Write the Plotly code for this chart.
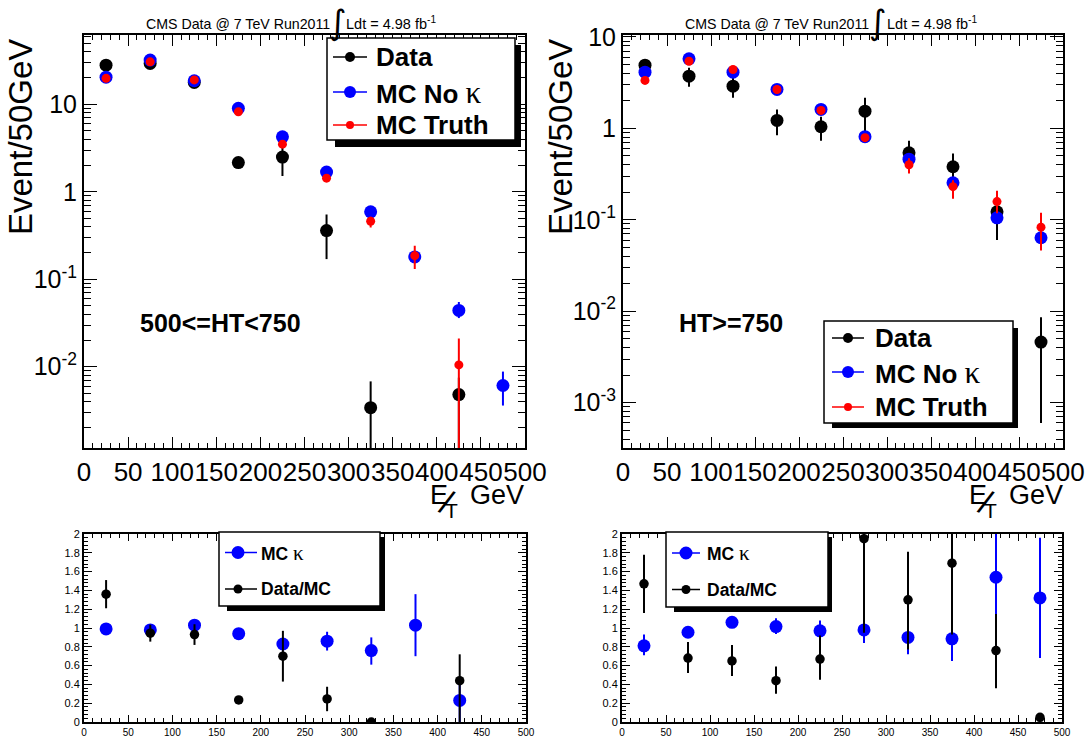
import plotly.graph_objects as go

W, H = 1087, 738

# ---------------- data ----------------
met_bins = [25, 75, 125, 175, 225, 275, 325, 375, 425, 475]

# 500 <= HT < 750
tl_data = [28, 29.3, 17.8, 2.16, 2.49, 0.36, 0.0034, None, 0.0048, None]
tl_data_up = [0, 0, 0, 0, 0.9, 0.19, 0.0034, 0, 0.0027, 0]
tl_data_dn = [0, 0, 0, 0, 0.97, 0.19, 0.00339, 0, 0.00479, 0]
tl_mc = [20.4, 32, 18.6, 9.0, 4.25, 1.68, 0.59, 0.18, 0.044, 0.0061]
tl_mc_up = [0, 0, 0, 0, 0, 0, 0, 0, 0.011, 0.0027]
tl_mc_dn = [0, 0, 0, 0, 0, 0, 0, 0, 0.008, 0.0025]
tl_truth = [19.8, 30.6, 19, 8.2, 3.5, 1.43, 0.46, 0.186, 0.0105, None]
tl_truth_up = [0, 0, 0, 0, 0, 0, 0.06, 0.055, 0.0105, 0]
tl_truth_dn = [0, 0, 0, 0, 0, 0, 0.07, 0.055, 0.01049, 0]

# HT >= 750
tr_data = [4.9, 3.72, 2.89, 1.22, 1.04, 1.54, 0.54, 0.38, 0.122, 0.0046]
tr_data_up = [0.3, 0.87, 0.7, 0.39, 0.3, 0.62, 0.19, 0.15, 0.045, 0.004]
tr_data_dn = [0.3, 0.87, 0.73, 0.38, 0.31, 0.64, 0.15, 0.12, 0.062, 0.004]
tr_mc = [4.11, 5.75, 4.11, 2.66, 1.61, 0.81, 0.46, 0.254, 0.105, 0.0636]
tr_truth = [3.34, 5.42, 4.4, 2.66, 1.57, 0.79, 0.40, 0.23, 0.158, 0.083]
tr_truth_up = [0, 0, 0, 0, 0, 0, 0.07, 0.04, 0.05, 0.036]
tr_truth_dn = [0, 0, 0, 0, 0, 0, 0.08, 0.06, 0.04, 0.037]

# ratios, 500 <= HT < 750
bl_mck = [0.99, 0.98, 1.03, 0.94, 0.83, 0.86, 0.76, 1.03, 0.23, None]
bl_mck_up = [0.02, 0.02, 0.02, 0.02, 0.05, 0.1, 0.14, 0.33, 0.2, 0]
bl_mck_dn = [0.02, 0.02, 0.02, 0.02, 0.05, 0.1, 0.15, 0.33, 0.23, 0]
bl_ratio = [1.36, 0.945, 0.93, 0.235, 0.70, 0.245, 0.0, None, 0.44, None]
bl_ratio_up = [0.15, 0.09, 0.11, 0, 0.27, 0.13, 0, 0, 0.28, 0]
bl_ratio_dn = [0.15, 0.09, 0.11, 0, 0.27, 0.13, 0, 0, 0.44, 0]

# ratios, HT >= 750
br_mck = [0.81, 0.955, 1.06, 1.015, 0.97, 0.98, 0.90, 0.885, 1.54, 1.32]
br_mck_up = [0.12, 0.05, 0.04, 0.09, 0.11, 0.14, 0.19, 0.26, 0.5, 0.64]
br_mck_dn = [0.1, 0.05, 0.04, 0.08, 0.11, 0.14, 0.18, 0.235, 0.39, 0.64]
br_ratio = [1.47, 0.68, 0.65, 0.44, 0.67, 1.95, 1.30, 1.69, 0.76, 0.05]
br_ratio_up = [0.31, 0.17, 0.17, 0.15, 0.25, 0.5, 0.51, 0.5, 0.39, 0]
br_ratio_dn = [0.31, 0.16, 0.16, 0.14, 0.22, 1.0, 0.53, 0.76, 0.40, 0]

log_tick_vals_tl = [0.01, 0.1, 1, 10]
log_tick_text_tl = ["10<sup>-2</sup>", "10<sup>-1</sup>", "1", "10"]
log_tick_vals_tr = [0.001, 0.01, 0.1, 1, 10]
log_tick_text_tr = ["10<sup>-3</sup>", "10<sup>-2</sup>", "10<sup>-1</sup>", "1", "10"]

title_left = "CMS Data @ 7 TeV Run2011"
title_right = "Ldt = 4.98 fb<sup>-1</sup>"

BLACK, BLUE, RED = "#000000", "#0000ff", "#ff0000"
FONT = "Liberation Sans"

# ---------------- helpers ----------------
def X(p):
    return p / W


def Y(p):
    return 1 - p / H


def pts(x, y, up, dn, color, size, xa, ya):
    return go.Scatter(
        x=x, y=y, mode="markers", xaxis=xa, yaxis=ya, showlegend=False,
        marker=dict(color=color, size=size, line=dict(width=0)),
        error_y=dict(type="data", symmetric=False, array=up, arrayminus=dn,
                     color=color, thickness=2, width=0),
        hoverinfo="x+y",
    )


fig = go.Figure()

# top-left
fig.add_trace(pts(met_bins, tl_data, tl_data_up, tl_data_dn, BLACK, 13, "x", "y"))
fig.add_trace(pts(met_bins, tl_mc, tl_mc_up, tl_mc_dn, BLUE, 13, "x", "y"))
fig.add_trace(pts(met_bins, tl_truth, tl_truth_up, tl_truth_dn, RED, 9, "x", "y"))
# top-right
fig.add_trace(pts(met_bins, tr_data, tr_data_up, tr_data_dn, BLACK, 13, "x2", "y2"))
fig.add_trace(pts(met_bins, tr_mc, [0] * 10, [0] * 10, BLUE, 13, "x2", "y2"))
fig.add_trace(pts(met_bins, tr_truth, tr_truth_up, tr_truth_dn, RED, 9, "x2", "y2"))
# bottom-left
fig.add_trace(pts(met_bins, bl_mck, bl_mck_up, bl_mck_dn, BLUE, 13, "x3", "y3"))
fig.add_trace(pts(met_bins, bl_ratio, bl_ratio_up, bl_ratio_dn, BLACK, 9.5, "x3", "y3"))
# bottom-right
fig.add_trace(pts(met_bins, br_mck, br_mck_up, br_mck_dn, BLUE, 13, "x4", "y4"))
fig.add_trace(pts(met_bins, br_ratio, br_ratio_up, br_ratio_dn, BLACK, 9.5, "x4", "y4"))

frame = dict(showline=True, linecolor="black", linewidth=2, mirror="ticks",
             ticks="inside", tickcolor="black", tickwidth=1, showgrid=False,
             zeroline=False, automargin=False, fixedrange=True)

minor_log = [k * 10.0 ** e for e in range(-4, 2) for k in range(2, 10)]

top_x = dict(frame, range=[0, 500], dtick=50, tick0=0, ticklen=11, tickangle=0,
             tickfont=dict(family=FONT, size=26, color="black"),
             minor=dict(ticks="inside", ticklen=5, dtick=10, tickcolor="black",
                        tickwidth=1, showgrid=False))
bot_x = dict(frame, range=[0, 500], dtick=50, tick0=0, ticklen=7, tickangle=0,
             tickfont=dict(family=FONT, size=10, color="black"),
             minor=dict(ticks="inside", ticklen=4, dtick=10, tickcolor="black",
                        tickwidth=1, showgrid=False))
bot_y = dict(frame, range=[0, 2], dtick=0.2, tick0=0, ticklen=8,
             tickfont=dict(family=FONT, size=11, color="black"),
             minor=dict(ticks="inside", ticklen=4, dtick=0.04, tickcolor="black",
                        tickwidth=1, showgrid=False))

yd_top = [Y(448), Y(34.5)]
yd_bot = [Y(722), Y(534)]

fig.update_layout(
    width=W, height=H, template="none",
    margin=dict(l=0, r=0, t=0, b=0, pad=0),
    paper_bgcolor="white", plot_bgcolor="white",
    showlegend=False,
    font=dict(family=FONT, color="black"),
    xaxis=dict(top_x, domain=[X(84), X(525)], anchor="y"),
    yaxis=dict(frame, type="log", range=[-2.929, 1.798], domain=yd_top, anchor="x",
               tickvals=log_tick_vals_tl, ticktext=log_tick_text_tl, ticklen=13,
               tickfont=dict(family=FONT, size=25, color="black"),
               minor=dict(ticks="inside", ticklen=7, tickvals=minor_log,
                          tickcolor="black", tickwidth=1, showgrid=False)),
    xaxis2=dict(top_x, domain=[X(623), X(1063)], anchor="y2"),
    yaxis2=dict(frame, type="log", range=[-3.496, 1.026], domain=yd_top, anchor="x2",
                tickvals=log_tick_vals_tr, ticktext=log_tick_text_tr, ticklen=13,
                tickfont=dict(family=FONT, size=25, color="black"),
                minor=dict(ticks="inside", ticklen=7, tickvals=minor_log,
                           tickcolor="black", tickwidth=1, showgrid=False)),
    xaxis3=dict(bot_x, domain=[X(84), X(526)], anchor="y3", ticklabelstandoff=0),
    yaxis3=dict(bot_y, domain=yd_bot, anchor="x3"),
    xaxis4=dict(bot_x, domain=[X(622), X(1062)], anchor="y4", ticklabelstandoff=0),
    yaxis4=dict(bot_y, domain=yd_bot, anchor="x4"),
)

shapes = []
annots = []


def text(t, px, py, size, xanchor="left", bold=False, angle=0, family=FONT):
    annots.append(dict(text=t, x=X(px), y=Y(py), xref="paper", yref="paper",
                       showarrow=False, xanchor=xanchor, yanchor="middle",
                       textangle=angle,
                       font=dict(family=family, size=size, color="black",
                                 weight="bold" if bold else "normal")))


def rect(x0, y0, x1, y1, fill, line_w):
    shapes.append(dict(type="rect", xref="paper", yref="paper",
                       x0=X(x0), x1=X(x1), y0=Y(y1), y1=Y(y0), fillcolor=fill,
                       line=dict(color="black", width=line_w), layer="above"))


def seg(x0, y0, x1, y1, color, w):
    shapes.append(dict(type="line", xref="paper", yref="paper",
                       x0=X(x0), x1=X(x1), y0=Y(y0), y1=Y(y1),
                       line=dict(color=color, width=w), layer="above"))


def dot(cx, cy, r, color):
    shapes.append(dict(type="circle", xref="paper", yref="paper",
                       x0=X(cx - r), x1=X(cx + r), y0=Y(cy + r), y1=Y(cy - r),
                       fillcolor=color, line=dict(width=0), layer="above"))


def legend(box, shadow, lx0, lx1, mx, tx, rows, size):
    rect(*shadow, "black", 0)
    rect(*box, "white", 1.5)
    for label, yy, color, r in rows:
        seg(lx0, yy, lx1, yy, color, 1.5)
        dot(mx, yy, r, color)
        text(label, tx, yy, size, bold=True)


kappa = ("<span style='font-family:Liberation Serif;font-weight:normal;"
         "font-size:1.2em'>\u03ba</span>")

# top legends
legend((327, 38, 515, 140), (335, 45, 521, 147), 333, 367, 350, 374,
       [("Data", 57, BLACK, 5), ("MC No " + kappa, 92, BLUE, 6),
        ("MC Truth", 125, RED, 4)], 26)
legend((824, 321, 1013, 423), (832, 328, 1018, 428), 832, 864, 848, 873,
       [("Data", 338, BLACK, 5), ("MC No " + kappa, 372, BLUE, 6),
        ("MC Truth", 407, RED, 4)], 26)
# bottom legends
legend((219, 532, 380, 606), (227, 537, 385, 611), 225, 257, 238, 259,
       [("MC " + kappa, 552.5, BLUE, 6.5), ("Data/MC", 589, BLACK, 4.5)], 17.5)
legend((666, 532, 828, 607), (674, 537, 832, 612), 672, 700, 686, 705,
       [("MC " + kappa, 553, BLUE, 6.5), ("Data/MC", 589.5, BLACK, 4.5)], 17.5)

# titles
for xl, xi, xr in [(332, 338, 344), (871, 878, 885)]:
    text(title_left, xl, 24, 14.2, xanchor="right")
    text("\u222b", xi, 22, 34, xanchor="center", family="DejaVu Sans")
    text(title_right, xr, 23, 14.5, xanchor="left")

# y titles
text("Event/50GeV", 20, 137, 33, xanchor="center", angle=-90)
text("Event/50GeV", 560, 137, 33, xanchor="center", angle=-90)

# x titles (missing transverse energy)
for off in [0, 539]:
    text("E", 428 + off, 495, 27)
    text("/", 446.5 + off, 502, 34, xanchor="center", angle=22)
    text("T", 443 + off, 510, 21)
    text("GeV", 468 + off, 495, 27)

# selection labels
text("500<=HT<750", 138, 323, 25, bold=True)
text("HT>=750", 677, 323, 25, bold=True)

fig.update_layout(shapes=shapes, annotations=annots)
fig.write_html("out.html",
               config={"displayModeBar": False},
               post_script="document.body.style.margin='0px';"
                           "document.body.style.overflow='hidden';")
